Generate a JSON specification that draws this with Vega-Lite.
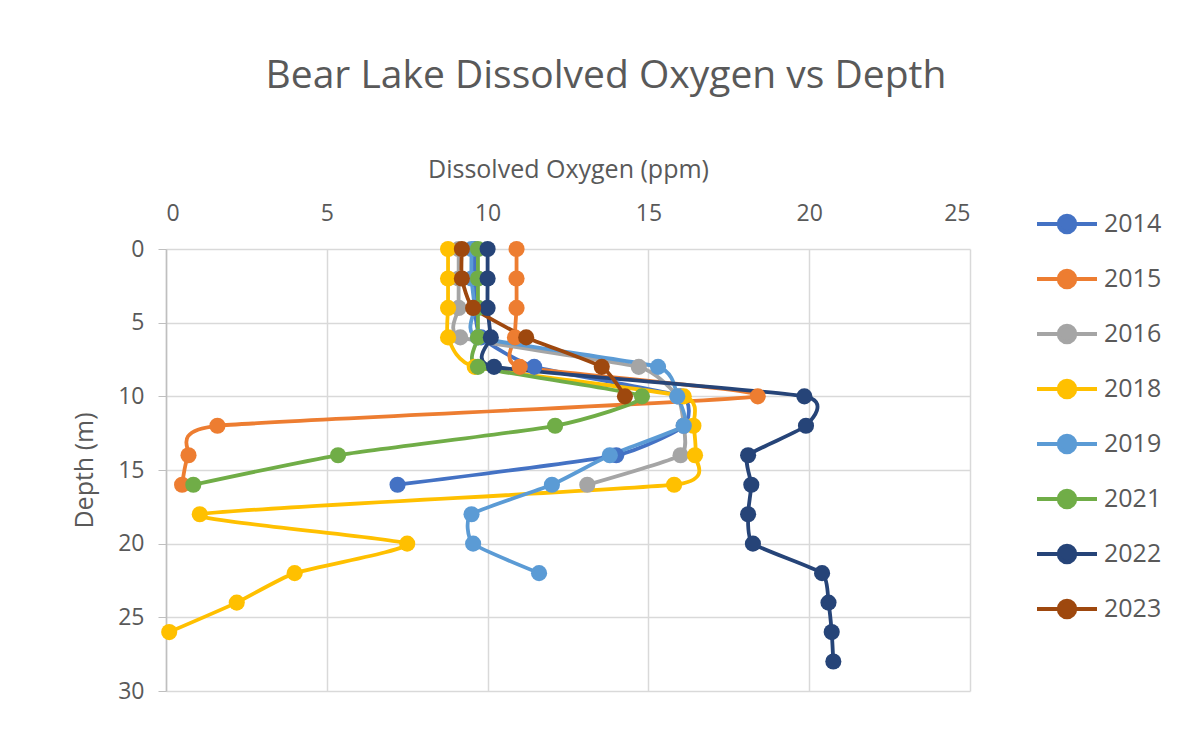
{
  "$schema": "https://vega.github.io/schema/vega-lite/v6.json",
  "autosize": {"type": "none"},
  "width": 804,
  "height": 442,
  "padding": {"left": 166, "top": 249, "right": 225, "bottom": 42},
  "background": "white",
  "config": {
    "font": "Open Sans",
    "view": {"stroke": null},
    "axis": {"labelColor": "#595959", "titleColor": "#595959", "gridColor": "#d9d9d9", "gridWidth": 1.5, "domainColor": "#bfbfbf", "tickColor": "#bfbfbf", "labelFont": "Open Sans", "titleFont": "Open Sans", "titleFontWeight": "normal"}
  },
  "title": {"text": "Bear Lake Dissolved Oxygen vs Depth", "font": "Open Sans", "fontSize": 39, "fontWeight": "normal", "color": "#595959", "anchor": "middle", "frame": "group", "dx": 38, "offset": 61},
  "data": {"values": [
    {"year": "2014", "depth": 0, "do": 9.6}, {"year": "2014", "depth": 2, "do": 9.6}, {"year": "2014", "depth": 4, "do": 9.6}, {"year": "2014", "depth": 6, "do": 9.8}, {"year": "2014", "depth": 8, "do": 11.45}, {"year": "2014", "depth": 10, "do": 16.0}, {"year": "2014", "depth": 12, "do": 16.1}, {"year": "2014", "depth": 14, "do": 14.0}, {"year": "2014", "depth": 16, "do": 7.2},
    {"year": "2015", "depth": 0, "do": 10.9}, {"year": "2015", "depth": 2, "do": 10.9}, {"year": "2015", "depth": 4, "do": 10.9}, {"year": "2015", "depth": 6, "do": 10.85}, {"year": "2015", "depth": 8, "do": 11.0}, {"year": "2015", "depth": 10, "do": 18.4}, {"year": "2015", "depth": 12, "do": 1.6}, {"year": "2015", "depth": 14, "do": 0.7}, {"year": "2015", "depth": 16, "do": 0.5},
    {"year": "2016", "depth": 0, "do": 9.1}, {"year": "2016", "depth": 2, "do": 9.1}, {"year": "2016", "depth": 4, "do": 9.1}, {"year": "2016", "depth": 6, "do": 9.15}, {"year": "2016", "depth": 8, "do": 14.7}, {"year": "2016", "depth": 10, "do": 15.9}, {"year": "2016", "depth": 12, "do": 16.1}, {"year": "2016", "depth": 14, "do": 16.0}, {"year": "2016", "depth": 16, "do": 13.1},
    {"year": "2018", "depth": 0, "do": 8.77}, {"year": "2018", "depth": 2, "do": 8.77}, {"year": "2018", "depth": 4, "do": 8.77}, {"year": "2018", "depth": 6, "do": 8.77}, {"year": "2018", "depth": 8, "do": 9.6}, {"year": "2018", "depth": 10, "do": 16.1}, {"year": "2018", "depth": 12, "do": 16.4}, {"year": "2018", "depth": 14, "do": 16.45}, {"year": "2018", "depth": 16, "do": 15.8}, {"year": "2018", "depth": 18, "do": 1.05}, {"year": "2018", "depth": 20, "do": 7.5}, {"year": "2018", "depth": 22, "do": 4.0}, {"year": "2018", "depth": 24, "do": 2.2}, {"year": "2018", "depth": 26, "do": 0.1},
    {"year": "2019", "depth": 0, "do": 9.5}, {"year": "2019", "depth": 2, "do": 9.5}, {"year": "2019", "depth": 4, "do": 9.6}, {"year": "2019", "depth": 6, "do": 9.7}, {"year": "2019", "depth": 8, "do": 15.3}, {"year": "2019", "depth": 10, "do": 15.9}, {"year": "2019", "depth": 12, "do": 16.1}, {"year": "2019", "depth": 14, "do": 13.8}, {"year": "2019", "depth": 16, "do": 12.0}, {"year": "2019", "depth": 18, "do": 9.5}, {"year": "2019", "depth": 20, "do": 9.55}, {"year": "2019", "depth": 22, "do": 11.6},
    {"year": "2021", "depth": 0, "do": 9.7}, {"year": "2021", "depth": 2, "do": 9.7}, {"year": "2021", "depth": 4, "do": 9.7}, {"year": "2021", "depth": 6, "do": 9.7}, {"year": "2021", "depth": 8, "do": 9.7}, {"year": "2021", "depth": 10, "do": 14.8}, {"year": "2021", "depth": 12, "do": 12.1}, {"year": "2021", "depth": 14, "do": 5.35}, {"year": "2021", "depth": 16, "do": 0.85},
    {"year": "2022", "depth": 0, "do": 10.0}, {"year": "2022", "depth": 2, "do": 10.0}, {"year": "2022", "depth": 4, "do": 10.0}, {"year": "2022", "depth": 6, "do": 10.1}, {"year": "2022", "depth": 8, "do": 10.2}, {"year": "2022", "depth": 10, "do": 19.85}, {"year": "2022", "depth": 12, "do": 19.9}, {"year": "2022", "depth": 14, "do": 18.1}, {"year": "2022", "depth": 16, "do": 18.2}, {"year": "2022", "depth": 18, "do": 18.1}, {"year": "2022", "depth": 20, "do": 18.25}, {"year": "2022", "depth": 22, "do": 20.4}, {"year": "2022", "depth": 24, "do": 20.6}, {"year": "2022", "depth": 26, "do": 20.7}, {"year": "2022", "depth": 28, "do": 20.75},
    {"year": "2023", "depth": 0, "do": 9.2}, {"year": "2023", "depth": 2, "do": 9.2}, {"year": "2023", "depth": 4, "do": 9.55}, {"year": "2023", "depth": 6, "do": 11.2}, {"year": "2023", "depth": 8, "do": 13.55}, {"year": "2023", "depth": 10, "do": 14.27}
  ]},
  "mark": {"type": "line", "interpolate": "cardinal", "tension": 0.5, "strokeWidth": 3.8, "point": {"filled": true, "size": 260, "opacity": 1}},
  "encoding": {
    "x": {"field": "do", "type": "quantitative", "scale": {"domain": [0, 25], "nice": false, "zero": false},
      "axis": {"orient": "top", "values": [0, 5, 10, 15, 20, 25], "title": "Dissolved Oxygen (ppm)", "titleFontSize": 25, "titlePadding": 20, "labelFontSize": 23, "labelPadding": 24, "ticks": false, "domain": false, "grid": true}},
    "y": {"field": "depth", "type": "quantitative", "scale": {"domain": [0, 30], "reverse": true, "nice": false},
      "axis": {"values": [0, 5, 10, 15, 20, 25, 30], "title": "Depth (m)", "titleFontSize": 25, "titlePadding": 20, "labelFontSize": 23, "labelPadding": 14, "tickSize": 8, "domain": true, "domainWidth": 1.5, "grid": true}},
    "color": {"field": "year", "type": "nominal",
      "scale": {"domain": ["2014", "2015", "2016", "2018", "2019", "2021", "2022", "2023"], "range": ["#4472C4", "#ED7D31", "#A5A5A5", "#FFC000", "#5B9BD5", "#70AD47", "#264478", "#9E480E"]},
      "legend": {"title": null, "orient": "none", "legendX": 884, "legendY": -42, "symbolType": "M-2,0L2,0M0.55,0A0.55,0.55,0,1,1,-0.55,0A0.55,0.55,0,1,1,0.55,0", "symbolSize": 900, "symbolStrokeWidth": 4, "labelFontSize": 25, "labelColor": "#595959", "labelOffset": 20, "rowPadding": 21,
        "encode": {"symbols": {"update": {"fill": {"scale": "color", "field": "value"}, "stroke": {"scale": "color", "field": "value"}, "opacity": {"value": 1}}}}}},
    "order": {"field": "depth", "type": "quantitative"}
  }
}
